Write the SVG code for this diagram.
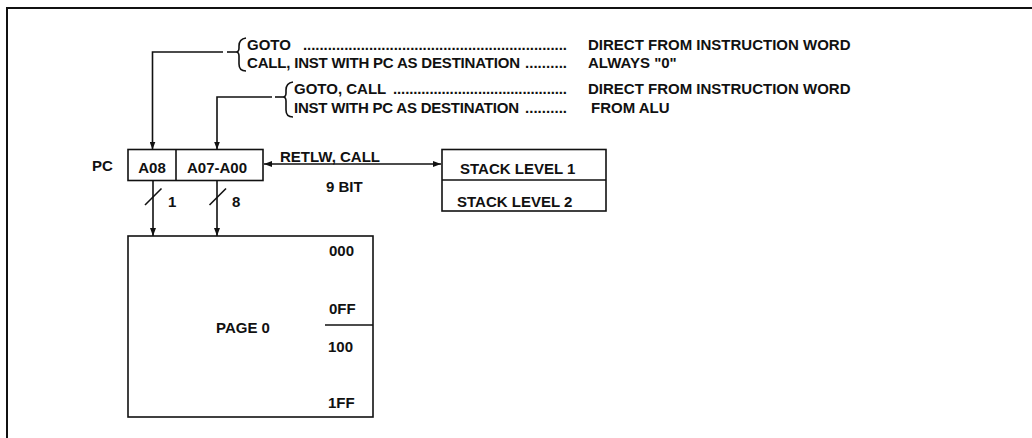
<svg xmlns="http://www.w3.org/2000/svg" width="1032" height="438" viewBox="0 0 1032 438">
<style>
text{font-family:"Liberation Sans",Arial,sans-serif;font-size:15px;font-weight:bold;fill:#111}
.box{fill:none;stroke:#111;stroke-width:1.6}
.ln{fill:none;stroke:#111;stroke-width:1.6}
</style>
<defs>
<marker id="arr" viewBox="0 0 8 6" refX="8" refY="3" markerWidth="8" markerHeight="6" markerUnits="userSpaceOnUse" orient="auto-start-reverse">
<path d="M0,0 L8,3 L0,6 z" fill="#111"/>
</marker>
</defs>
<path d="M7,438 L7,8 L1032,8" fill="none" stroke="#111" stroke-width="2"/>
<g id="pc">
<text x="92" y="171">PC</text>
<rect class="box" x="128" y="149.5" width="135" height="31"/>
<line class="ln" x1="176" y1="149.5" x2="176" y2="180.5"/>
<text x="152" y="172.5" text-anchor="middle">A08</text>
<text x="187" y="172.5">A07-A00</text>
</g>
<g id="stack">
<rect class="box" x="442" y="149.5" width="164" height="61.5"/>
<line class="ln" x1="442" y1="180" x2="606" y2="180"/>
<text x="460" y="174">STACK LEVEL 1</text>
<text x="457" y="207">STACK LEVEL 2</text>
</g>
<g id="memory">
<rect class="box" x="128" y="236" width="245" height="181"/>
<line class="ln" x1="325" y1="325" x2="373" y2="325"/>
<text x="329" y="256">000</text>
<text x="329" y="314">0FF</text>
<text x="328" y="352">100</text>
<text x="328" y="408">1FF</text>
<text x="216" y="333">PAGE 0</text>
</g>
<g id="sources">
<path class="ln" d="M246,38 Q239,39 239,46 L239,48 Q239,52 236,52 Q239,52 239,56 L239,64 Q239,71 246,71"/>
<text y="49.5"><tspan x="247">GOTO</tspan><tspan x="303" textLength="264" lengthAdjust="spacing">................................................................</tspan><tspan x="588">DIRECT FROM INSTRUCTION WORD</tspan></text>
<text y="68"><tspan x="247" textLength="273" lengthAdjust="spacing">CALL, INST WITH PC AS DESTINATION</tspan><tspan x="525" textLength="42" lengthAdjust="spacing">..........</tspan><tspan x="588">ALWAYS "0"</tspan></text>
<path class="ln" d="M293,82 Q286,83 286,90 L286,93 Q286,97 283,97 Q286,97 286,101 L286,110 Q286,117 293,117"/>
<text y="94"><tspan x="294">GOTO, CALL</tspan><tspan x="393" textLength="174" lengthAdjust="spacing">...........................................</tspan><tspan x="588">DIRECT FROM INSTRUCTION WORD</tspan></text>
<text y="112.5"><tspan x="294" textLength="225" lengthAdjust="spacing">INST WITH PC AS DESTINATION</tspan><tspan x="525" textLength="42" lengthAdjust="spacing">..........</tspan><tspan x="591">FROM ALU</tspan></text>
</g>
<g id="connectors">
<polyline class="ln" points="223,52 152.5,52 152.5,149.5" marker-end="url(#arr)"/>
<line class="ln" x1="227" y1="52" x2="236" y2="52"/>
<polyline class="ln" points="272,97 217,97 217,149.5" marker-end="url(#arr)"/>
<line class="ln" x1="275" y1="97" x2="283" y2="97"/>
<line class="ln" x1="264" y1="164" x2="441" y2="164" marker-start="url(#arr)" marker-end="url(#arr)"/>
<text x="280" y="162">RETLW, CALL</text>
<text x="326" y="191.5">9 BIT</text>
<line class="ln" x1="153" y1="180.5" x2="153" y2="236" marker-end="url(#arr)"/>
<line class="ln" x1="217" y1="180.5" x2="217" y2="236" marker-end="url(#arr)"/>
<line class="ln" x1="145" y1="205" x2="161.5" y2="188.5"/>
<line class="ln" x1="209.5" y1="205" x2="226" y2="188.5"/>
<text x="168" y="206.5">1</text>
<text x="232" y="206.5">8</text>
</g>
</svg>
